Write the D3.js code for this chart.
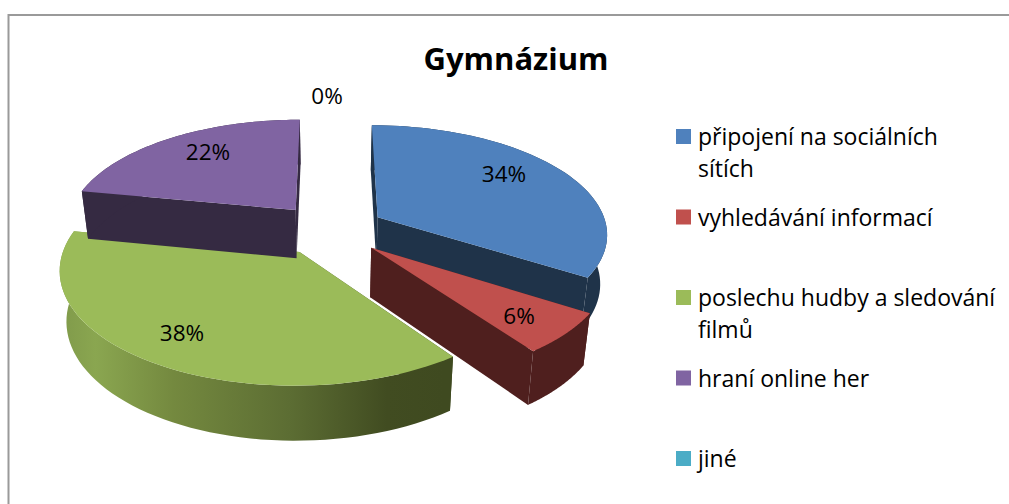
<!DOCTYPE html>
<html>
<head>
<meta charset="utf-8">
<script src="https://cdn.jsdelivr.net/npm/d3@7"></script>
<style>
  html, body { margin: 0; padding: 0; background: #fff; }
  svg { display: block; }
  text { font-family: "Open Sans", Lato, sans-serif; fill: #000; }
</style>
</head>
<body>
<div id="chart"></div>
<script>
var title = "Gymnázium";
var categories = ["připojení na sociálních\nsítích", "vyhledávání informací", "poslechu hudby a sledování\nfilmů", "hraní online her", "jiné"];
var values = [34, 6, 38, 22, 0];
var topColors = ["#4f81bd", "#c0504d", "#9bbb59", "#8064a2", "#4bacc6"];
var sideColors = ["#1f3349", "#4f1f1e", "url(#greenSide)", "#352a42", "#1e4650"];

var width = 1009,
    height = 504;

// pie geometry: plane coords are unit circle, then a simple perspective
var cx = 330, cy = 229.5,
    rx = 230, ry = 108,
    explode = 0.24,
    persp = 0.14,
    depth = 49,
    shrink = 0.025;

function project(u, v, h) {
  var w = 1 / (1 - persp * v);
  var k = w * (1 - shrink * h);
  return [cx + u * rx * k, cy + v * ry * k + h * depth * w];
}

var svg = d3.select("#chart").append("svg")
  .attr("width", width)
  .attr("height", height);

var grad = svg.append("defs").append("linearGradient")
  .attr("id", "greenSide")
  .attr("gradientUnits", "userSpaceOnUse")
  .attr("x1", 57).attr("x2", 445).attr("y1", 0).attr("y2", 0);
[[0, "#7f994a"], [0.1, "#8aa650"], [0.3, "#74893f"], [0.6, "#5c6d33"], [0.85, "#414c21"], [1, "#3f4a20"]].forEach(function (s) {
  grad.append("stop").attr("offset", s[0]).attr("stop-color", s[1]);
});

// chart frame
svg.append("path")
  .attr("d", "M8.5," + height + "V15H" + width)
  .attr("fill", "none")
  .attr("stroke", "#9a9a9a")
  .attr("stroke-width", 2);

var color = d3.scaleOrdinal().domain(categories).range(topColors);
var side = d3.scaleOrdinal().domain(categories).range(sideColors);

var pie = d3.pie().sort(null).value(function (d) { return d.value; });
var slices = pie(categories.map(function (c, i) { return {name: c, value: values[i]}; }))
  .filter(function (d) { return d.value > 0; });

var line = d3.line();

slices.forEach(function (d) {
  var mid = (d.startAngle + d.endAngle) / 2;
  var ou = explode * Math.sin(mid),
      ov = -explode * Math.cos(mid);
  var angles = d3.range(0, 61).map(function (i) {
    return d.startAngle + (d.endAngle - d.startAngle) * i / 60;
  });
  var rim = function (h) {
    return angles.map(function (a) { return project(ou + Math.sin(a), ov - Math.cos(a), h); });
  };
  var apex = function (h) { return project(ou, ov, h); };
  var top = rim(0), bottom = rim(1);

  var g = svg.append("g").attr("class", "slice");
  var fill = side(d.data.name);

  // cut faces and outer wall, then the top
  g.append("path")
    .attr("d", line([apex(0), top[0], bottom[0], apex(1)]) + "Z")
    .attr("fill", fill);
  g.append("path")
    .attr("d", line([apex(0), top[top.length - 1], bottom[bottom.length - 1], apex(1)]) + "Z")
    .attr("fill", fill);
  g.append("path")
    .attr("d", line(top.concat(bottom.slice().reverse())) + "Z")
    .attr("fill", fill);
  g.append("path")
    .attr("d", line([apex(0)].concat(top)) + "Z")
    .attr("fill", color(d.data.name));
});

// data labels
var labelPos = [[504, 174], [519, 316], [182, 333], [208, 152], [327, 96]];
svg.append("g").selectAll("text")
  .data(values)
  .join("text")
  .attr("x", function (d, i) { return labelPos[i][0]; })
  .attr("y", function (d, i) { return labelPos[i][1]; })
  .attr("dy", "0.35em")
  .attr("text-anchor", "middle")
  .style("font-size", "22.5px")
  .text(function (d) { return d + "%"; });

svg.append("text")
  .attr("x", 516)
  .attr("y", 70)
  .attr("text-anchor", "middle")
  .style("font-size", "31px")
  .style("font-weight", "bold")
  .text(title);

// legend
var legendY = d3.scalePoint().domain(categories).range([136.5, 458.5]);

var legend = svg.append("g").selectAll("g")
  .data(categories)
  .join("g")
  .attr("transform", function (d) { return "translate(676," + legendY(d) + ")"; });

legend.append("rect")
  .attr("y", -7.5)
  .attr("width", 15)
  .attr("height", 15)
  .attr("fill", function (d) { return color(d); });

legend.append("text")
  .style("font-size", "23px")
  .selectAll("tspan")
  .data(function (d) { return d.split("\n"); })
  .join("tspan")
  .attr("x", 22)
  .attr("y", function (d, i) { return 8.5 + i * 31.5; })
  .text(function (d) { return d; });
</script>
</body>
</html>
